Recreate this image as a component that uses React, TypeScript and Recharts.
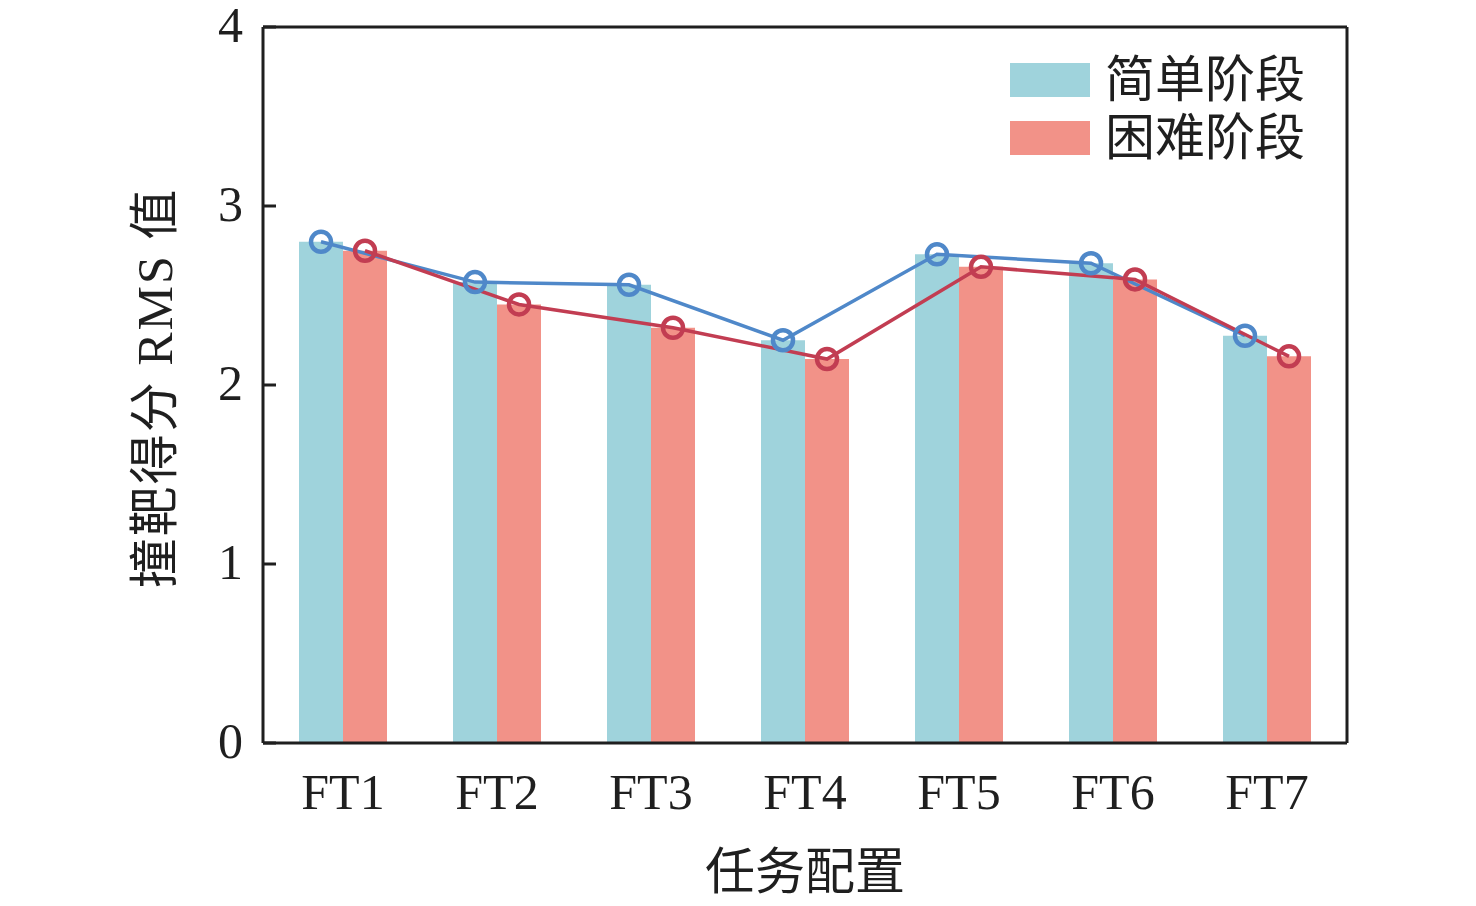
import {
  Bar,
  ComposedChart,
  Legend,
  Line,
  ReferenceLine,
  XAxis,
  YAxis,
} from 'recharts';

const categories = ['FT1', 'FT2', 'FT3', 'FT4', 'FT5', 'FT6', 'FT7'];
const easyValues = [2.8, 2.575, 2.56, 2.25, 2.73, 2.68, 2.275];
const hardValues = [2.75, 2.45, 2.32, 2.145, 2.66, 2.59, 2.16];
const yTicks = [0, 1, 2, 3, 4];
const seriesNames = ['简单阶段', '困难阶段'];

const FONT = '"Liberation Serif", "Noto Sans CJK SC", serif';
const INK = '#1f1f1f';
const EASY_BAR = '#9fd3dc';
const HARD_BAR = '#f29288';
const EASY_LINE = '#4f88c9';
const HARD_LINE = '#c23d52';

const W = 1476;
const H = 906;
const MARGIN = { top: 27, right: 129, bottom: 103, left: 163 };
const Y_AXIS_W = 100;
const X_PAD = 3;
const BAR_SIZE = 44;

// band width in px, used to put the line points on the bar centres
const plotW = W - MARGIN.left - Y_AXIS_W - MARGIN.right - 2 * X_PAD;
const band = plotW / categories.length;
const shift = BAR_SIZE / 2 / band;
const numDomain = [-X_PAD / band, categories.length + X_PAD / band];

const data = categories.map((name, i) => ({
  name,
  easy: easyValues[i],
  hard: hardValues[i],
}));
const easyLine = easyValues.map((v, i) => ({ x: i + 0.5 - shift, v }));
const hardLine = hardValues.map((v, i) => ({ x: i + 0.5 + shift, v }));

const LegendBox = () => (
  <div style={{ fontFamily: FONT, fontSize: 50, color: INK }}>
    {seriesNames.map((n, i) => (
      <div key={n} style={{ display: 'flex', alignItems: 'center', height: 58 }}>
        <div
          style={{
            width: 80,
            height: 34,
            background: i === 0 ? EASY_BAR : HARD_BAR,
            marginRight: 15,
          }}
        />
        <span style={{ lineHeight: 1 }}>{n}</span>
      </div>
    ))}
  </div>
);

const YTick = (props: any) => {
  const { x, y, payload } = props;
  return (
    <text
      x={x}
      y={y - 2}
      textAnchor="end"
      dominantBaseline="central"
      fontSize={50}
      fontFamily={FONT}
      fill={INK}
    >
      {payload.value}
    </text>
  );
};

export default function App() {
  return (
    <div style={{ position: 'absolute', top: 0, left: 0, width: W, height: H, background: '#fff' }}>
      <ComposedChart
        width={W}
        height={H}
        data={data}
        margin={MARGIN}
        barGap={0}
        barSize={BAR_SIZE}
      >
        <XAxis
          xAxisId="cat"
          dataKey="name"
          padding={{ left: X_PAD, right: X_PAD }}
          height={60}
          tickLine={false}
          tickSize={0}
          tickMargin={30}
          axisLine={{ stroke: INK, strokeWidth: 3 }}
          tick={{ fontSize: 50, fill: INK, fontFamily: FONT }}
          label={(props: any) => {
            const vb = props.viewBox;
            return (
              <text
                x={vb.x + vb.width / 2}
                y={vb.y + 129}
                textAnchor="middle"
                dominantBaseline="central"
                fontSize={50}
                fontFamily={FONT}
                fill={INK}
              >
                任务配置
              </text>
            );
          }}
        />
        <XAxis
          xAxisId="num"
          type="number"
          dataKey="x"
          domain={numDomain}
          allowDataOverflow
          hide
        />
        <YAxis
          domain={[0, 4]}
          ticks={yTicks}
          width={Y_AXIS_W}
          tickSize={-13}
          tickMargin={33}
          axisLine={{ stroke: INK, strokeWidth: 3 }}
          tickLine={{ stroke: INK, strokeWidth: 3 }}
          tick={<YTick />}
          label={(props: any) => {
            const vb = props.viewBox;
            const cx = vb.x - 8;
            const cy = vb.y + vb.height / 2 + 3;
            return (
              <text
                x={cx}
                y={cy}
                transform={`rotate(-90 ${cx} ${cy})`}
                textAnchor="middle"
                dominantBaseline="central"
                fontSize={50}
                letterSpacing={2}
                fontFamily={FONT}
                fill={INK}
              >
                撞靶得分 RMS 值
              </text>
            );
          }}
        />
        <ReferenceLine xAxisId="num" y={4} stroke={INK} strokeWidth={3} />
        <ReferenceLine xAxisId="num" x={numDomain[1]} stroke={INK} strokeWidth={3} />
        <Legend
          layout="vertical"
          align="center"
          verticalAlign="middle"
          content={() => <LegendBox />}
          wrapperStyle={{ top: 51, left: 1010, width: 'auto' }}
        />
        <Bar xAxisId="cat" dataKey="easy" fill={EASY_BAR} isAnimationActive={false} />
        <Bar xAxisId="cat" dataKey="hard" fill={HARD_BAR} isAnimationActive={false} />
        <Line
          xAxisId="num"
          data={easyLine}
          dataKey="v"
          stroke={EASY_LINE}
          strokeWidth={3.5}
          dot={{ r: 10, stroke: EASY_LINE, strokeWidth: 4.5, fill: 'none' }}
          activeDot={false}
          isAnimationActive={false}
        />
        <Line
          xAxisId="num"
          data={hardLine}
          dataKey="v"
          stroke={HARD_LINE}
          strokeWidth={3.5}
          dot={{ r: 10, stroke: HARD_LINE, strokeWidth: 4.5, fill: 'none' }}
          activeDot={false}
          isAnimationActive={false}
        />
      </ComposedChart>
    </div>
  );
}
